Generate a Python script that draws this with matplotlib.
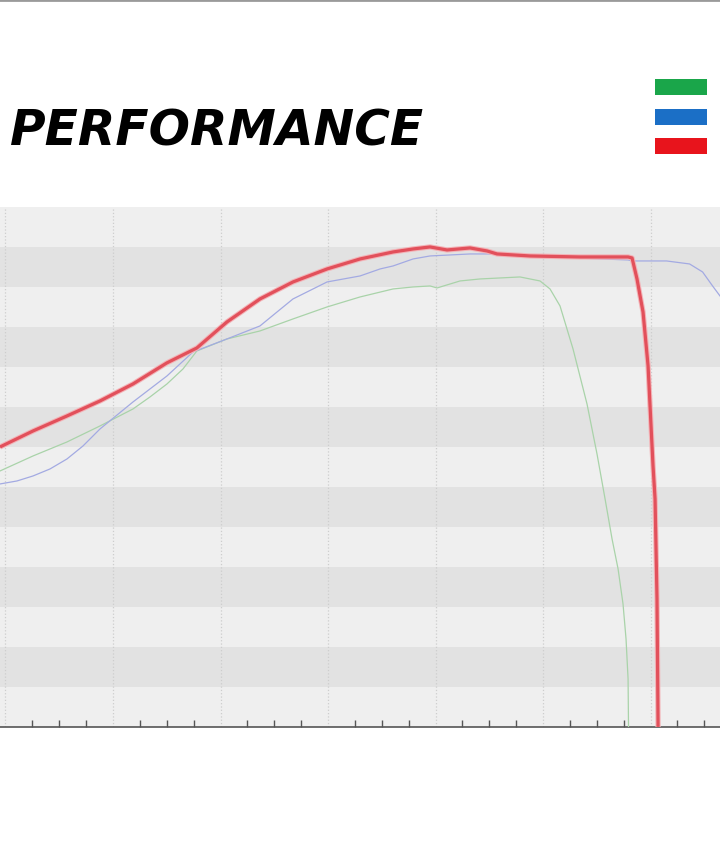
import matplotlib
matplotlib.use("Agg")
import matplotlib.pyplot as plt
from matplotlib.patches import Rectangle
from matplotlib.lines import Line2D
from matplotlib.ticker import MultipleLocator, NullFormatter

# courbes (tr/min, valeur)
red_rpm = [1949, 2256, 2572, 2879, 3186, 3500, 3780, 4060, 4367, 4674, 4991, 5298,
           5605, 5791, 5949, 6107, 6321, 6479, 6572, 6879, 7344, 7791, 7828, 7874,
           7930, 7977, 8023, 8042, 8060, 8070]
red_val = [140, 148, 155.5, 163, 171.5, 182, 189.5, 202.5, 214, 222.5, 229, 234,
           237.5, 239, 240, 238.5, 239.5, 238, 236.5, 235.5, 235, 235, 234.5, 224,
           207.5, 180.5, 130.5, 114, 64, 0]

blue_rpm = [1949, 2107, 2256, 2414, 2572, 2721, 2879, 3186, 3502, 3744, 4060, 4367,
            4526, 4674, 4991, 5298, 5484, 5605, 5791, 5949, 6321, 6500, 6800, 7300,
            7790, 7833, 8149, 8363, 8484, 8577, 8646]
blue_val = [121.5, 123, 125.5, 129, 134, 140.5, 149, 162.5, 175.5, 187.5, 194, 200.5,
            207.5, 214, 222.5, 225.5, 229, 230.5, 234, 235.5, 236.5, 236.5, 235, 234.5,
            233.5, 233, 233, 231.5, 227.5, 220.5, 215.5]

green_rpm = [1949, 2256, 2572, 2879, 3186, 3344, 3502, 3651, 3780, 4060, 4367, 4674,
             4991, 5298, 5605, 5791, 5949, 6014, 6228, 6414, 6786, 6972, 7065, 7158,
             7279, 7409, 7502, 7577, 7642, 7698, 7744, 7772, 7791, 7795]
green_val = [128, 135.5, 142.5, 150.5, 159, 165, 171.5, 179, 188, 194, 198, 204,
             210, 215, 219, 220, 220.5, 219.5, 223, 224, 225, 223, 219, 210.5,
             189, 161.5, 136.5, 114, 94, 79, 61.5, 44, 24, 0]

legend_colors = ['#1aa64a', '#1b6fc6', '#e8141c']
title = 'PERFORMANCE'

fig = plt.figure(figsize=(7.2, 8.45), dpi=100)
fig.patch.set_facecolor('white')

ax = fig.add_axes([0, 0.1385, 1, 0.6154])
ax.set_xlim(1949, 8646)
ax.set_ylim(0, 260)

# bandes horizontales alternees
for i in range(13):
    ax.axhspan(20 * i, 20 * (i + 1), color='#efefef' if i % 2 == 0 else '#e2e2e2', lw=0, zorder=0)

ax.xaxis.set_major_locator(MultipleLocator(1000))
ax.xaxis.set_minor_locator(MultipleLocator(250))
ax.xaxis.set_major_formatter(NullFormatter())
ax.set_yticks([])
ax.grid(axis='x', which='major', color='#cdcdcd', ls=':', lw=0.9, zorder=1)
ax.tick_params(axis='x', which='major', length=0)
ax.tick_params(axis='x', which='minor', direction='in', length=5, width=1, color='#555555')
for s in ['left', 'right', 'top']:
    ax.spines[s].set_visible(False)
ax.spines['bottom'].set_color('#555555')
ax.spines['bottom'].set_linewidth(1.2)

ax.plot(green_rpm, green_val, color='#a9d3a9', lw=0.9, zorder=3)
ax.plot(blue_rpm, blue_val, color='#a3aae2', lw=0.9, zorder=3)
ax.plot(red_rpm, red_val, color='#f3b3b7', lw=3.8, zorder=4, solid_capstyle='butt')
ax.plot(red_rpm, red_val, color='#e2505b', lw=2.3, zorder=5, solid_capstyle='butt')

# titre
fig.text(0.014, 0.8284, title, fontsize=35, fontweight='bold', style='italic',
         family='DejaVu Sans', color='black', va='baseline', ha='left')

# petits rectangles de legende
for k, c in enumerate(legend_colors):
    bottom = [0.8864, 0.8509, 0.8166][k]
    fig.patches.append(Rectangle((0.9097, bottom), 0.0722, 0.0189, transform=fig.transFigure,
                                 facecolor=c, edgecolor='none'))

# bord gris en haut
fig.lines.append(Line2D([0, 1], [0.9985, 0.9985], transform=fig.transFigure, color='#9a9a9a', lw=2))

fig.savefig('out.png', dpi=100)
